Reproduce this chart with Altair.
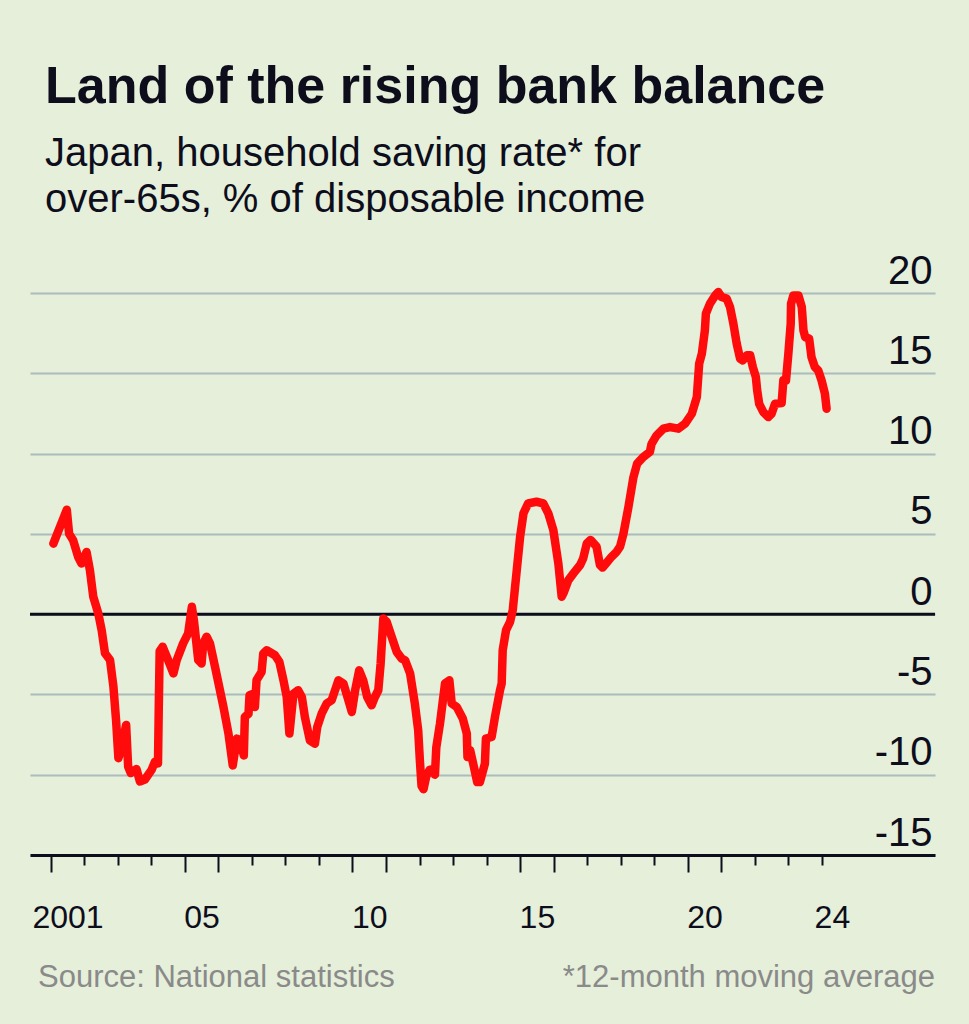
import altair as alt
import pandas as pd

# ---- data ----
years = [
    2001.08, 2001.48, 2001.55, 2001.67, 2001.82, 2001.92, 2002.07, 2002.17, 2002.27, 2002.42,
    2002.52, 2002.62, 2002.77, 2002.87, 2002.95, 2003.02, 2003.12, 2003.25, 2003.31, 2003.39,
    2003.56, 2003.66, 2003.81, 2004.01, 2004.11, 2004.20, 2004.22, 2004.25, 2004.34, 2004.46,
    2004.66, 2004.76, 2004.95, 2005.10, 2005.21, 2005.27, 2005.40, 2005.50, 2005.55, 2005.65,
    2005.75, 2005.90, 2006.15, 2006.30, 2006.43, 2006.55, 2006.65, 2006.76, 2006.79, 2006.90,
    2006.93, 2007.05, 2007.09, 2007.14, 2007.29, 2007.34, 2007.44, 2007.69, 2007.82, 2007.94,
    2008.04, 2008.12, 2008.24, 2008.38, 2008.49, 2008.58, 2008.73, 2008.88, 2008.95, 2009.08,
    2009.23, 2009.38, 2009.48, 2009.58, 2009.73, 2009.88, 2009.98, 2010.08, 2010.20, 2010.32,
    2010.44, 2010.57, 2010.67, 2010.77, 2010.84, 2010.92, 2011.02, 2011.17, 2011.32, 2011.47,
    2011.57, 2011.72, 2011.86, 2011.96, 2012.01, 2012.06, 2012.12, 2012.20, 2012.30, 2012.40,
    2012.46, 2012.50, 2012.61, 2012.76, 2012.89, 2012.96, 2013.11, 2013.29, 2013.41, 2013.43,
    2013.51, 2013.60, 2013.72, 2013.80, 2013.95, 2013.98, 2014.15, 2014.25, 2014.40, 2014.45,
    2014.48, 2014.58, 2014.70, 2014.78, 2014.90, 2015.00, 2015.10, 2015.24, 2015.49, 2015.69,
    2015.84, 2015.99, 2016.14, 2016.24, 2016.31, 2016.44, 2016.59, 2016.79, 2016.88, 2016.99,
    2017.10, 2017.28, 2017.38, 2017.46, 2017.58, 2017.73, 2017.88, 2017.98, 2018.08, 2018.23,
    2018.38, 2018.49, 2018.67, 2018.87, 2018.92, 2019.07, 2019.27, 2019.47, 2019.72, 2019.92,
    2020.12, 2020.27, 2020.34, 2020.42, 2020.51, 2020.54, 2020.66, 2020.82, 2020.91, 2021.01,
    2021.16, 2021.26, 2021.36, 2021.46, 2021.56, 2021.64, 2021.76, 2021.86, 2021.94, 2022.03,
    2022.07, 2022.13, 2022.25, 2022.40, 2022.50, 2022.60, 2022.80, 2022.85, 2022.93, 2023.00,
    2023.07, 2023.08, 2023.15, 2023.30, 2023.40, 2023.45, 2023.50, 2023.62, 2023.69, 2023.79,
    2023.89, 2023.99, 2024.09, 2024.14,
]
rates = [
    4.39, 6.50, 5.00, 4.60, 3.56, 3.15, 3.87, 2.73, 1.08, 0.04,
    -1.00, -2.44, -2.86, -4.50, -6.60, -8.97, -8.25, -6.90, -9.49, -9.90,
    -9.65, -10.42, -10.30, -9.70, -9.18, -9.30, -6.30, -2.30, -2.03, -2.65,
    -3.69, -2.86, -1.82, -1.20, 0.46, -0.37, -2.86, -3.07, -1.82, -1.41,
    -1.82, -3.27, -5.76, -7.42, -9.42, -7.75, -7.85, -8.80, -6.40, -6.20,
    -5.05, -4.95, -5.78, -4.10, -3.60, -2.45, -2.25, -2.56, -2.97, -4.10,
    -5.16, -7.44, -4.95, -4.74, -5.16, -6.40, -7.86, -8.07, -7.03, -6.20,
    -5.57, -5.36, -4.74, -4.12, -4.32, -5.36, -6.09, -4.74, -3.50, -4.12,
    -5.16, -5.68, -5.16, -4.74, -3.08, -0.27, -0.48, -1.41, -2.35, -2.77,
    -2.87, -3.70, -5.57, -7.23, -9.10, -10.70, -10.90, -10.10, -9.70, -9.65,
    -10.00, -8.30, -6.82, -4.32, -4.12, -5.57, -5.78, -6.50, -7.44, -8.90,
    -8.48, -9.31, -10.46, -10.46, -9.31, -7.75, -7.65, -6.40, -4.74, -4.32,
    -2.25, -1.00, -0.48, 0.25, 2.74, 4.82, 6.28, 6.90, 7.00, 6.90,
    6.28, 5.24, 3.16, 1.08, 1.39, 2.12, 2.54, 3.06, 3.47, 4.41,
    4.62, 4.20, 3.06, 2.90, 3.20, 3.58, 3.89, 4.20, 5.00, 6.67,
    8.54, 9.37, 9.78, 10.10, 10.60, 11.13, 11.55, 11.65, 11.55, 11.86,
    12.48, 13.52, 15.60, 16.22, 17.67, 18.71, 19.33, 19.85, 20.06, 19.75,
    19.65, 19.13, 18.09, 16.84, 15.91, 15.80, 16.12, 16.12, 15.39, 14.77,
    13.94, 13.10, 12.59, 12.27, 12.48, 13.10, 13.15, 14.56, 14.56, 16.22,
    18.09, 19.33, 19.85, 19.85, 19.13, 17.67, 17.26, 17.15, 16.00, 15.39,
    15.18, 14.56, 13.73, 12.79,
]

tick_years = list(range(2001, 2025))
long_tick_years = [2001, 2005, 2006, 2010, 2011, 2015, 2016, 2020, 2021]
label_years = [2001, 2005, 2010, 2015, 2020, 2024]
label_texts = ["2001", "05", "10", "15", "20", "24"]
y_ticks = [-15, -10, -5, 0, 5, 10, 15, 20]

title_text = "Land of the rising bank balance"
subtitle_lines = ["Japan, household saving rate* for", "over-65s, % of disposable income"]
source_text = "Source: National statistics"
note_text = "*12-month moving average"

# ---- style ----
FONT = "Liberation Sans"
BG = "#e5efd9"
INK = "#0d0d1c"
GRID = "#acbbbc"
RED = "#ff0b0b"
GREY = "#8a8a8a"

W, H = 905, 562

df = pd.DataFrame({"year": years, "rate": rates})

label_expr = " : ".join(f"datum.value == {y} ? '{t}'" for y, t in zip(label_years, label_texts)) + " : ''"
long_test = "indexof([" + ",".join(str(y) for y in long_tick_years) + "], datum.value) >= 0"
last_test = f"datum.value == {label_years[-1]}"

x_scale = alt.Scale(domain=[2000.383, 2027.373], nice=False, zero=False)
y_scale = alt.Scale(domain=[-15, 20], nice=False, zero=False)

x_axis = alt.Axis(
    values=tick_years, labelExpr=label_expr,
    labelOffset={"condition": {"test": last_test, "value": 10}, "value": 16.8},
    labelFont=FONT, labelFontSize=32, labelColor=INK, labelBaseline="top",
    labelPadding={"condition": {"test": long_test, "value": 30}, "value": 37},
    labelAngle=0, labelOverlap=False, labelFlush=False,
    tickSize={"condition": {"test": long_test, "value": 17}, "value": 10},
    tickWidth=2, tickColor=INK, domainWidth=3, domainColor=INK,
    grid=False, title=None,
)
y_axis = alt.Axis(
    orient="right", values=y_ticks, labelExpr="toString(datum.value)",
    labelAlign="right", labelBaseline="alphabetic", labelPadding=-3, labelOffset=-10,
    labelFont=FONT, labelFontSize=40, labelColor=INK, ticks=False, domain=False,
    grid=True, gridColor=GRID, gridWidth=2, title=None,
)

zero = alt.Chart(pd.DataFrame({"rate": [0]})).mark_rule(color=INK, strokeWidth=3).encode(
    y=alt.Y("rate:Q", scale=y_scale, axis=y_axis)
)
line = alt.Chart(df).mark_line(
    color=RED, strokeWidth=8.5, strokeCap="round", strokeJoin="round"
).encode(
    x=alt.X("year:Q", scale=x_scale, axis=x_axis),
    y=alt.Y("rate:Q", scale=y_scale, axis=y_axis),
)

foot_df = pd.DataFrame({"src": [source_text], "note": [note_text]})
src = alt.Chart(foot_df).mark_text(
    align="left", baseline="alphabetic", font=FONT, fontSize=31, color=GREY
).encode(text="src:N", x=alt.value(8), y=alt.value(694))
note = alt.Chart(foot_df).mark_text(
    align="right", baseline="alphabetic", font=FONT, fontSize=31, color=GREY
).encode(text="note:N", x=alt.value(W), y=alt.value(694))

chart = alt.layer(zero, line, src, note).properties(
    width=W, height=H,
    title=alt.Title(
        text=title_text, subtitle=subtitle_lines, anchor="start", frame="group",
        font=FONT, fontSize=52, fontWeight="bold", color=INK,
        subtitleFont=FONT, subtitleFontSize=40, subtitleColor=INK,
        subtitleLineHeight=46, subtitlePadding=20, dx=15, offset=30,
    ),
    padding={"left": 30, "top": 293, "right": 34, "bottom": 169},
    autosize=alt.AutoSizeParams(type="none"),
    background=BG,
).configure_view(stroke=None)

chart.save("out.html", embed_options={"renderer": "svg", "actions": False})
